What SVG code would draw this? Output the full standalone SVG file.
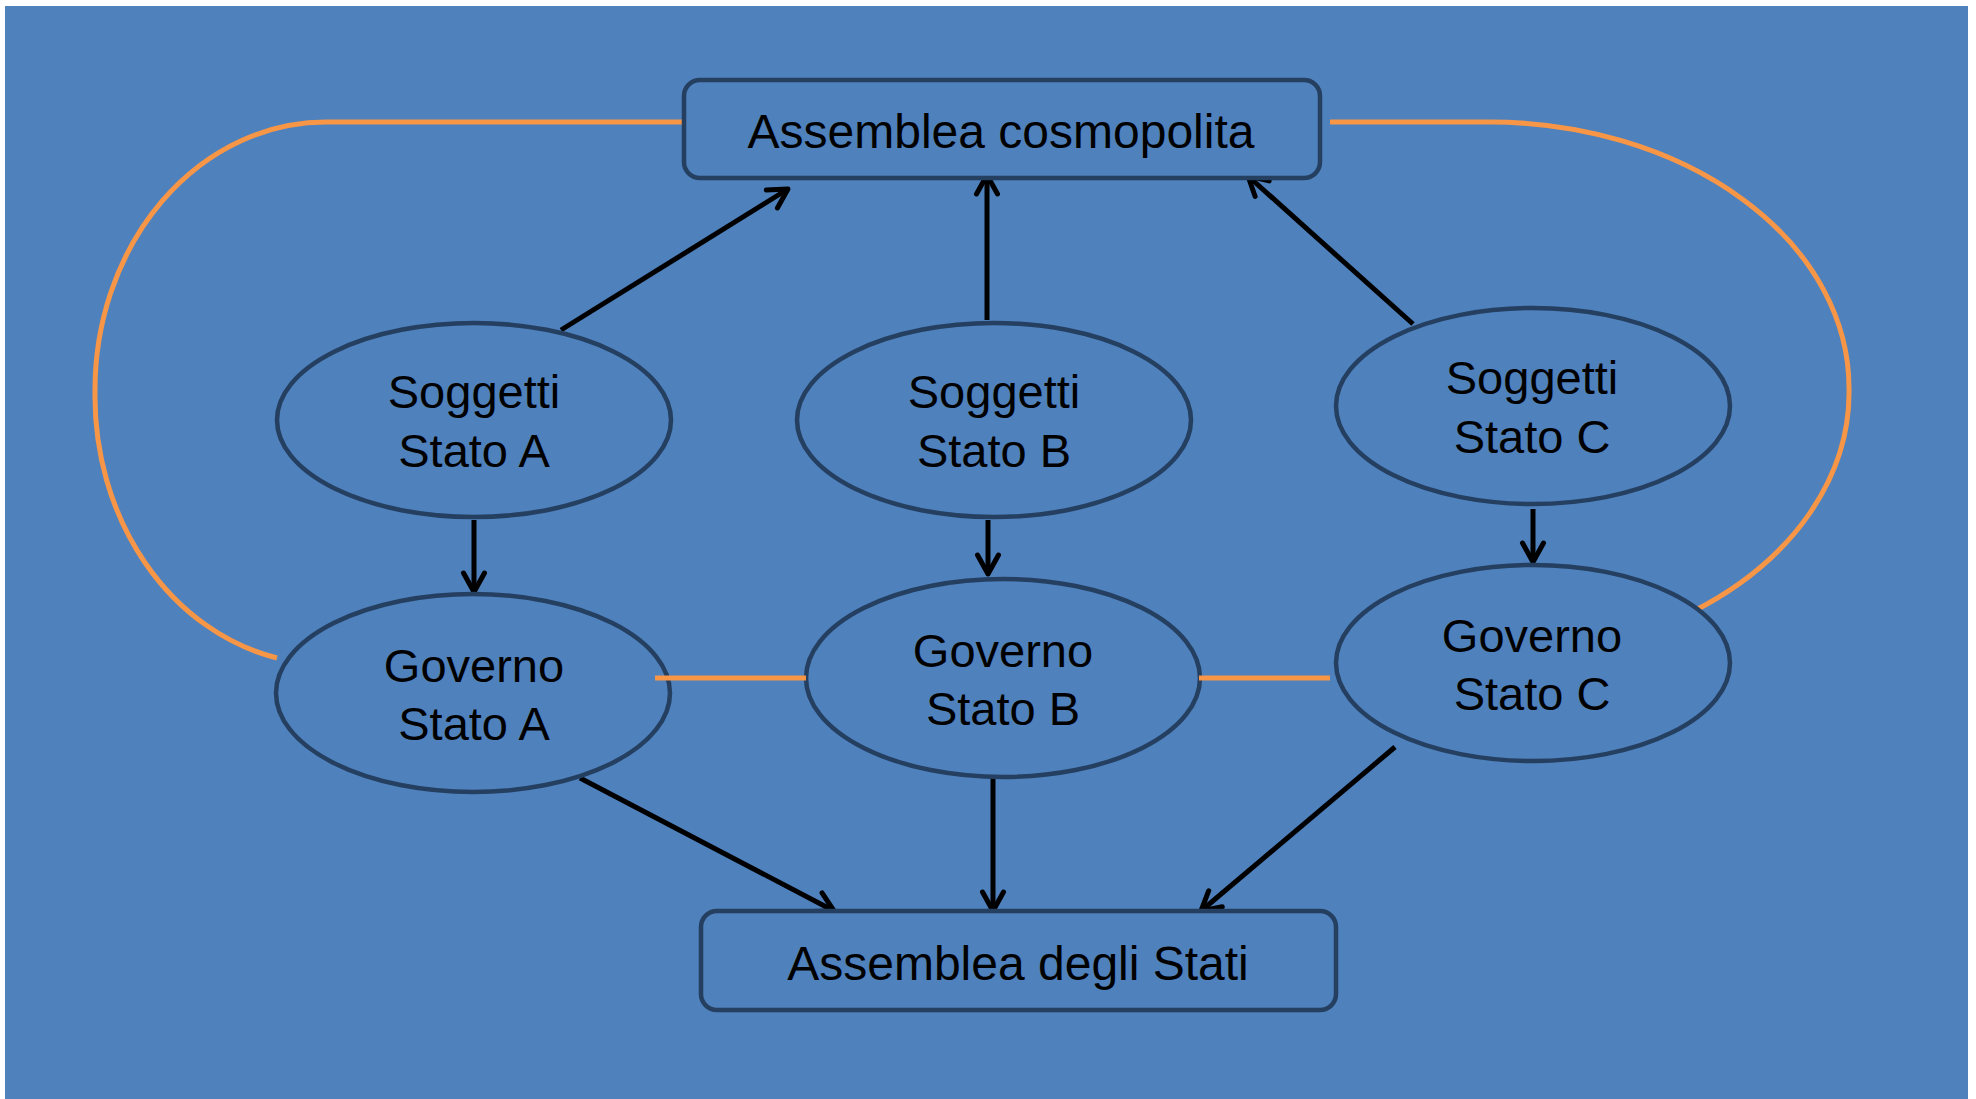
<svg xmlns="http://www.w3.org/2000/svg" width="1976" height="1099" viewBox="0 0 1976 1099">
<style>
.node{fill:#4F81BD;stroke:#243F60;stroke-width:4.5}
.lbl{font-family:"Liberation Sans",Arial,sans-serif;font-size:47px;fill:#000;text-anchor:middle}
.big{font-size:48px}
.arr{stroke:#000;stroke-width:5;fill:none;marker-end:url(#ah)}
.org{stroke:#F79646;stroke-width:5;fill:none}
</style>
<defs>
<marker id="ah" markerUnits="userSpaceOnUse" markerWidth="30" markerHeight="30" viewBox="0 0 30 30" refX="25" refY="15" orient="auto">
<path d="M6,4.5 L25,15 L6,25.5" fill="none" stroke="#000" stroke-width="5" stroke-linecap="round" stroke-linejoin="round"/>
</marker>
</defs>
<rect x="0" y="0" width="1976" height="1099" fill="#FFFFFF"/>
<rect x="5" y="6" width="1963" height="1093" fill="#4F81BD"/>
<g id="connectors">
<path class="org" d="M684,122 H326 A231,268 0 0 0 95,392 A231,268 0 0 0 277,658"/>
<path class="org" d="M1330,122 H1489 A360,266 0 0 1 1849,388 A360,266 0 0 1 1694,611"/>
<line class="arr" x1="561" y1="330" x2="788" y2="189"/>
<line class="arr" x1="987" y1="320" x2="987" y2="175"/>
<line class="arr" x1="1413" y1="324" x2="1248" y2="176"/>
<line class="arr" x1="474" y1="520" x2="474" y2="592"/>
<line class="arr" x1="988" y1="520" x2="988" y2="574"/>
<line class="arr" x1="1533" y1="509" x2="1533" y2="562"/>
<line class="arr" x1="580" y1="778" x2="834" y2="911"/>
<line class="arr" x1="993" y1="778" x2="993" y2="911"/>
<line class="arr" x1="1395" y1="747" x2="1201" y2="911"/>
</g>
<g id="assemblea-cosmopolita">
<rect class="node" x="684" y="80" width="636" height="98" rx="16"/>
<text class="lbl big" x="1001" y="148">Assemblea cosmopolita</text>
</g>
<g id="assemblea-stati">
<rect class="node" x="701" y="911" width="635" height="99" rx="16"/>
<text class="lbl big" x="1018" y="980">Assemblea degli Stati</text>
</g>
<g id="soggetti-a">
<ellipse class="node" cx="474" cy="420" rx="197" ry="97"/>
<text class="lbl" x="474" y="408">Soggetti</text>
<text class="lbl" x="474" y="467">Stato A</text>
</g>
<g id="soggetti-b">
<ellipse class="node" cx="994" cy="420" rx="197" ry="97"/>
<text class="lbl" x="994" y="408">Soggetti</text>
<text class="lbl" x="994" y="467">Stato B</text>
</g>
<g id="soggetti-c">
<ellipse class="node" cx="1533" cy="406" rx="197" ry="98"/>
<text class="lbl" x="1532" y="394">Soggetti</text>
<text class="lbl" x="1532" y="453">Stato C</text>
</g>
<g id="governo-a">
<ellipse class="node" cx="473" cy="693" rx="197" ry="99"/>
<text class="lbl" x="474" y="682">Governo</text>
<text class="lbl" x="474" y="740">Stato A</text>
</g>
<g id="governo-b">
<ellipse class="node" cx="1003" cy="678" rx="197" ry="99"/>
<text class="lbl" x="1003" y="667">Governo</text>
<text class="lbl" x="1003" y="725">Stato B</text>
</g>
<g id="governo-c">
<ellipse class="node" cx="1533" cy="663" rx="197" ry="98"/>
<text class="lbl" x="1532" y="652">Governo</text>
<text class="lbl" x="1532" y="710">Stato C</text>
</g>
<g id="orange-links">
<line class="org" x1="655" y1="678" x2="806" y2="678"/>
<line class="org" x1="1199" y1="678" x2="1330" y2="678"/>
</g>
</svg>
